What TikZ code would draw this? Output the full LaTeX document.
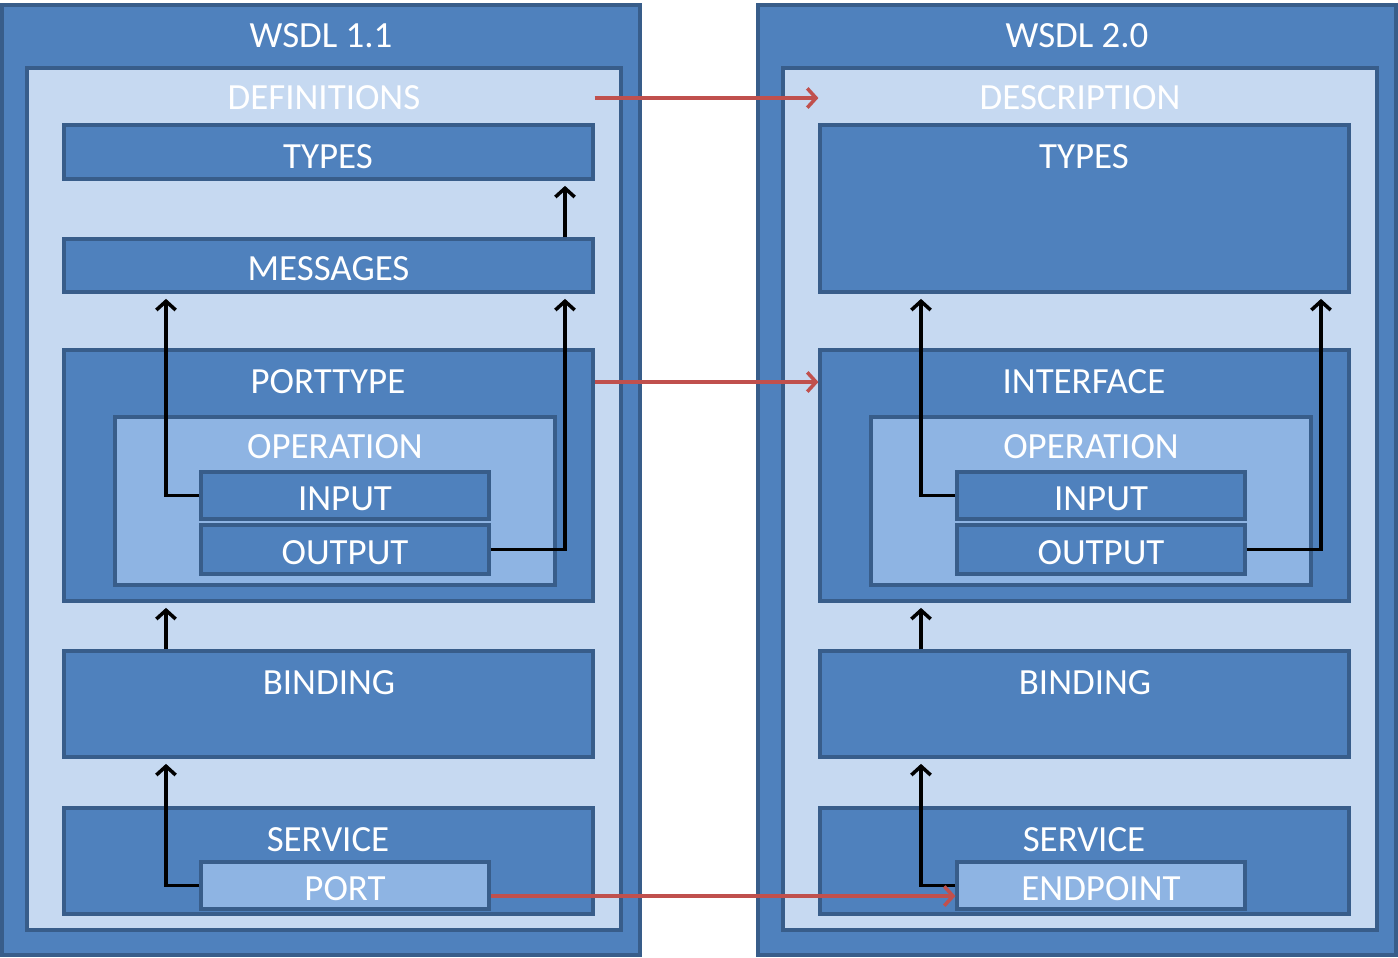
\documentclass[tikz,border=0pt]{standalone}
\usepackage{fontspec}
\setmainfont{Carlito}
\usetikzlibrary{fit,arrows.meta}
\definecolor{bdr}{HTML}{385D8A}
\definecolor{mid}{HTML}{4F81BD}
\definecolor{pale}{HTML}{C6D9F1}
\definecolor{soft}{HTML}{8EB4E3}
\definecolor{rd}{HTML}{C0504D}
\begin{document}
\begin{tikzpicture}[x=0.02cm,y=-0.02cm,
	bx/.style={draw=bdr,line width=1.8pt,fill=mid,inner sep=0pt},
	wt/.style={text=white,font=\fontsize{21}{25}\selectfont},
	ct/.style={label={[wt,yshift=-2pt]center:#1}},
	ar/.style={draw=black,line width=2pt,-{Straight Barb[length=5pt,width=11pt]},shorten >=3pt},
	ra/.style={draw=rd,line width=2pt,-{Straight Barb[length=5pt,width=11pt]}}]
	\useasboundingbox (0,0) rectangle (1398,957);
	\foreach \s/\o/\ti/\td/\tq/\te/\hy in {L/0/WSDL 1.1/DEFINITIONS/PORTTYPE/PORT/179,R/756/WSDL 2.0/DESCRIPTION/INTERFACE/ENDPOINT/292}{
		\node[bx,fit={(2+\o,5)(640+\o,955)}] (wsd\s) {};
		\node[wt] (tw\s) at (321+\o,36) {\ti};
		\node[bx,fill=pale,fit={(27+\o,68)(621+\o,930)}] (def\s) {};
		\node[wt] (tdef\s) at (324+\o,98) {\td};
		\node[bx,fit={(64+\o,125)(593+\o,\hy)}] (typ\s) {};
		\node[wt] (ttyp\s) at (328+\o,157) {TYPES};
		\node[bx,fit={(64+\o,350)(593+\o,601)}] (pt\s) {};
		\node[wt] (tpt\s) at (328+\o,382) {\tq};
		\node[bx,fill=soft,fit={(115+\o,417)(555+\o,585)}] (op\s) {};
		\node[wt] (top\s) at (335+\o,447) {OPERATION};
		\node[bx,ct=INPUT,fit={(201+\o,472)(489+\o,519)}] (in\s) {};
		\node[bx,ct=OUTPUT,fit={(201+\o,525)(489+\o,574)}] (out\s) {};
		\node[bx,fit={(64+\o,651)(593+\o,757)}] (bnd\s) {};
		\node[wt] (tbnd\s) at (329+\o,683) {BINDING};
		\node[bx,fit={(64+\o,808)(593+\o,914)}] (sv\s) {};
		\node[wt] (tsv\s) at (328+\o,840) {SERVICE};
		\node[bx,fill=soft,ct=\te,fit={(201+\o,862)(489+\o,909)}] (port\s) {};
	}
	\node[bx,ct=MESSAGES,fit={(64,239)(593,292)}] (msgL) {};
	% columns of the black arrows
	\coordinate (xa) at (166,0);
	\coordinate (xb) at (565,0);
	\coordinate (xc) at (921,0);
	\coordinate (xd) at (1321,0);
	\draw[ar] (msgL.north -| xb) -- (typL.south -| xb);
	\draw[ar] (inL.west) -| (msgL.south -| xa);
	\draw[ar] (outL.east) -| (msgL.south -| xb);
	\draw[ar] (bndL.north -| xa) -- (ptL.south -| xa);
	\draw[ar] (portL.west) -| (bndL.south -| xa);
	\draw[ar] (inR.west) -| (typR.south -| xc);
	\draw[ar] (outR.east) -| (typR.south -| xd);
	\draw[ar] (bndR.north -| xc) -- (ptR.south -| xc);
	\draw[ar] (portR.west) -| (bndR.south -| xc);
	% 1.1 -> 2.0
	\draw[ra] (typL.east |- tdefL) -- (typR.west |- tdefR);
	\draw[ra] (ptL.east |- tptL) -- (ptR.west |- tptR);
	\draw[ra] ([yshift=-6pt]portL.east) -- ([yshift=-6pt]portR.west);
\end{tikzpicture}
\end{document}
